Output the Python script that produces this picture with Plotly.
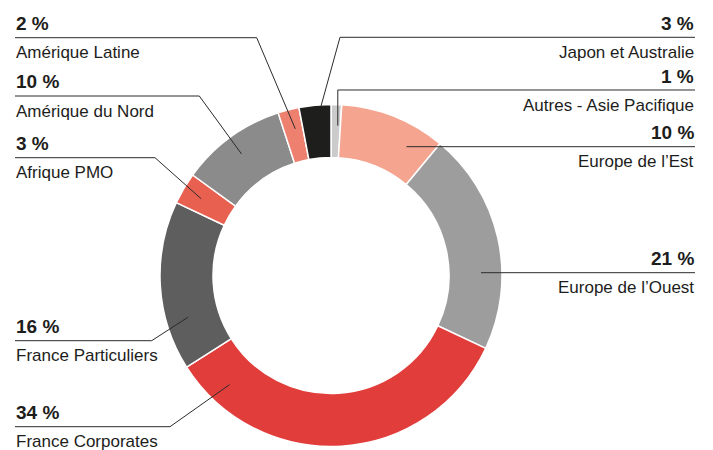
import math
import plotly.graph_objects as go

# ---- data ----
categories = ["Autres - Asie Pacifique", "Europe de l\u2019Est", "Europe de l\u2019Ouest",
              "France Corporates", "France Particuliers", "Afrique PMO",
              "Amérique du Nord", "Amérique Latine", "Japon et Australie"]
values = [1, 10, 21, 34, 16, 3, 10, 2, 3]
pct_labels = [f"{v} %" for v in values]
colors = ["#cbcbcb", "#f4a48f", "#9d9d9d", "#e13d3b", "#5d5e5d",
          "#e8604f", "#8b8b8b", "#ee806f", "#1e1e1c"]

# ---- layout parameters (pixels in the 713x450 window) ----
OFF = 8                      # default page body margin
W, H = 713 - OFF, 450 - OFF  # figure size
CX, CY, R_OUT, R_IN = 331, 275.5, 171, 118
side = ["R", "R", "R", "L", "L", "L", "L", "L", "R"]
line_y = [90, 146.7, 272.7, 426.7, 340.7, 157.7, 96, 37.7, 37.3]
knee_x = [None, None, None, 170, 151.7, 155, 199.3, 256.7, 340]
anchor_frac = [0.72, 0.74, 0.68, 0.88, 0.28, 0.5, 0.49, 0.6, 0.68]
anchor_r = [150, 150, 150, 149, 149, 151, 151, 151, 169]
LEFT_X, RIGHT_X = 15, 695

FONT = "Liberation Sans, Arial, sans-serif"
TXT = "#1d1d1b"
LINE = "#2b2b2b"


def px(x):
    return (x - OFF) / W


def py(y):
    return 1 - (y - OFF) / H


fig = go.Figure(go.Pie(
    labels=categories, values=values, sort=False, direction="clockwise",
    rotation=0, hole=R_IN / R_OUT, textinfo="none", hoverinfo="label+percent",
    marker=dict(colors=colors, line=dict(color="white", width=1.5)),
    domain=dict(x=[px(CX - R_OUT), px(CX + R_OUT)],
                y=[py(CY + R_OUT), py(CY - R_OUT)]),
    showlegend=False,
))

total = sum(values)
cum = 0
shapes, annotations = [], []
for i, v in enumerate(values):
    a0 = cum / total * 360
    cum += v
    ang = math.radians(a0 + anchor_frac[i] * v / total * 360)
    ax = CX + anchor_r[i] * math.sin(ang)
    ay = CY - anchor_r[i] * math.cos(ang)
    ly = line_y[i]
    if side[i] == "L":
        x_text, xa = LEFT_X, "left"
        pts = [(LEFT_X, ly), (knee_x[i], ly), (ax, ay)]
    else:
        x_text, xa = RIGHT_X, "right"
        if i == 0:
            pts = [(RIGHT_X, ly), (ax, ly), (ax, ay)]
        elif knee_x[i] is None:
            pts = [(RIGHT_X, ly), (ax, ly)]
        else:
            pts = [(RIGHT_X, ly), (knee_x[i], ly), (ax, ay)]
    path = "M " + " L ".join(f"{px(x):.5f},{py(y):.5f}" for x, y in pts)
    shapes.append(dict(type="path", path=path, xref="paper", yref="paper",
                       line=dict(color=LINE, width=1)))
    annotations.append(dict(x=px(x_text), y=py(ly - 14), xref="paper", yref="paper",
                            text=f"<b>{pct_labels[i]}</b>", showarrow=False,
                            xanchor=xa, yanchor="middle", borderpad=0,
                            font=dict(family=FONT, size=19, color=TXT)))
    annotations.append(dict(x=px(x_text), y=py(ly + 15), xref="paper", yref="paper",
                            text=categories[i], showarrow=False,
                            xanchor=xa, yanchor="middle", borderpad=0,
                            font=dict(family=FONT, size=17, color=TXT)))

fig.update_layout(width=W, height=H, margin=dict(l=0, r=0, t=0, b=0),
                  paper_bgcolor="white", plot_bgcolor="white",
                  shapes=shapes, annotations=annotations)
fig.write_html("out.html")
